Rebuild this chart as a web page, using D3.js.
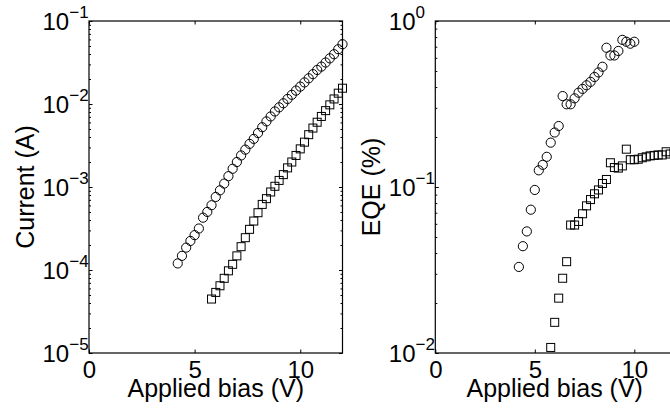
<!DOCTYPE html>
<html>
<head>
<meta charset="utf-8">
<script src="https://cdn.jsdelivr.net/npm/d3@7"></script>
<style>
body { margin: 0; background: #fff; }
text { font-family: "Liberation Sans", Arial, Helvetica, sans-serif; fill: #000; }
</style>
</head>
<body>
<svg id="chart" width="670" height="412"></svg>
<script>
//// DATA ///////////////////////////////////////////////////////////////////////

// Left panel: current vs applied bias
var bias_circle = [4.2, 4.4, 4.6, 4.8, 5.0, 5.2, 5.4, 5.6, 5.8, 6.0,
	6.2, 6.4, 6.6, 6.8, 7.0, 7.2, 7.4, 7.6, 7.8, 8.0,
	8.2, 8.4, 8.6, 8.8, 9.0, 9.2, 9.4, 9.6, 9.8, 10.0,
	10.2, 10.4, 10.6, 10.8, 11.0, 11.2, 11.4, 11.6, 11.8, 12.0];
var current_circle = [1.20e-4, 1.48e-4, 1.86e-4, 2.24e-4, 2.63e-4, 3.16e-4, 4.27e-4, 5.01e-4, 6.03e-4, 7.59e-4,
	9.12e-4, 1.10e-3, 1.35e-3, 1.66e-3, 2.00e-3, 2.40e-3, 2.82e-3, 3.31e-3, 3.80e-3, 4.47e-3,
	5.25e-3, 6.17e-3, 7.08e-3, 8.13e-3, 9.12e-3, 1.02e-2, 1.15e-2, 1.29e-2, 1.45e-2, 1.62e-2,
	1.82e-2, 2.04e-2, 2.29e-2, 2.57e-2, 2.82e-2, 3.16e-2, 3.55e-2, 3.98e-2, 4.57e-2, 5.25e-2];

var bias_square = [5.8, 6.0, 6.2, 6.4, 6.6, 6.8, 7.0, 7.2, 7.4, 7.6,
	7.8, 8.0, 8.2, 8.4, 8.6, 8.8, 9.0, 9.2, 9.4, 9.6,
	9.8, 10.0, 10.2, 10.4, 10.6, 10.8, 11.0, 11.2, 11.4, 11.6, 11.8, 12.0];
var current_square = [4.47e-5, 5.37e-5, 6.46e-5, 7.94e-5, 9.77e-5, 1.17e-4, 1.48e-4, 1.91e-4, 2.45e-4, 3.09e-4,
	3.89e-4, 4.90e-4, 6.17e-4, 7.24e-4, 8.71e-4, 1.02e-3, 1.20e-3, 1.41e-3, 1.70e-3, 2.00e-3,
	2.40e-3, 2.88e-3, 3.47e-3, 4.27e-3, 5.13e-3, 6.03e-3, 7.08e-3, 8.32e-3, 9.77e-3, 1.15e-2, 1.35e-2, 1.55e-2];

// Right panel: EQE vs applied bias
var eqe_bias_circle = [4.2, 4.4, 4.6, 4.8, 5.0, 5.2, 5.4, 5.6, 5.8, 6.0,
	6.2, 6.4, 6.6, 6.8, 7.0, 7.2, 7.4, 7.6, 7.8, 8.0,
	8.2, 8.4, 8.6, 8.8, 9.0, 9.2, 9.4, 9.6, 9.8, 10.0];
var eqe_circle = [0.033, 0.044, 0.054, 0.073, 0.096, 0.126, 0.136, 0.152, 0.185, 0.213,
	0.233, 0.353, 0.315, 0.315, 0.342, 0.37, 0.39, 0.41, 0.43, 0.46,
	0.49, 0.53, 0.69, 0.62, 0.62, 0.66, 0.77, 0.75, 0.73, 0.75];

var eqe_bias_square = [5.8, 6.0, 6.2, 6.4, 6.6, 6.8, 7.0, 7.2, 7.4, 7.6,
	7.8, 8.0, 8.2, 8.4, 8.6, 8.8, 9.0, 9.2, 9.4, 9.6,
	9.8, 10.0, 10.2, 10.4, 10.6, 10.8, 11.0, 11.2, 11.4, 11.6, 11.8, 12.0];
var eqe_square = [0.0108, 0.0153, 0.0214, 0.0282, 0.0355, 0.059, 0.059, 0.062, 0.069, 0.077,
	0.084, 0.091, 0.096, 0.105, 0.111, 0.140, 0.131, 0.130, 0.134, 0.169,
	0.146, 0.146, 0.147, 0.150, 0.152, 0.154, 0.155, 0.156, 0.156, 0.163, 0.158, 0.160];

// Axes
var x_ticks = [0, 5, 10];
var current_ticks = [1e-5, 1e-4, 1e-3, 1e-2, 1e-1];
var current_exps = ["\u22125", "\u22124", "\u22123", "\u22122", "\u22121"];
var eqe_ticks = [1e-2, 1e-1, 1];
var eqe_exps = ["\u22122", "\u22121", "0"];


//// SETTINGS ///////////////////////////////////////////////////////////////////

var top_y = 21, bot_y = 353;
var tick_len = 3.5, minor_len = 2;
var tick_font = 24, sup_font = 17, label_font = 25;

var svg = d3.select("#chart");


//// DRAWING ////////////////////////////////////////////////////////////////////

function drawPanel(p) {
	var x = d3.scaleLinear().domain([0, 12]).range([p.left, p.right]);
	var y = d3.scaleLog().domain(p.ydomain).range([bot_y, top_y]);
	var g = svg.append("g");

	// minor log ticks, both sides
	var minors = [];
	p.yticks.slice(0, -1).forEach(function(d) {
		for (var k = 2; k <= 9; k++) minors.push(d * k);
	});
	g.append("g").attr("transform", "translate(" + p.left + ",0)")
		.call(d3.axisRight(y).tickValues(minors).tickSize(minor_len).tickFormat(""));
	g.append("g").attr("transform", "translate(" + p.right + ",0)")
		.call(d3.axisLeft(y).tickValues(minors).tickSize(minor_len).tickFormat(""));

	// major y ticks
	g.append("g").attr("transform", "translate(" + p.left + ",0)")
		.call(d3.axisRight(y).tickValues(p.yticks).tickSize(tick_len).tickFormat(""));
	g.append("g").attr("transform", "translate(" + p.right + ",0)")
		.call(d3.axisLeft(y).tickValues(p.yticks).tickSize(tick_len).tickFormat(""));

	// x ticks, bottom (with labels) and top
	var xb = g.append("g").attr("transform", "translate(0," + bot_y + ")")
		.call(d3.axisBottom(x).tickValues(x_ticks).tickSizeInner(-tick_len).tickSizeOuter(0).tickPadding(8));
	xb.selectAll("text").style("font-size", tick_font + "px")
		.style("font-family", "'Liberation Sans', Arial, sans-serif").attr("fill", "#000");
	g.append("g").attr("transform", "translate(0," + top_y + ")")
		.call(d3.axisTop(x).tickValues(x_ticks).tickSizeInner(-tick_len).tickSizeOuter(0).tickFormat(""));

	g.selectAll(".domain").remove();
	g.selectAll(".tick line").attr("stroke", "#000").attr("stroke-width", 1);

	// box
	g.append("rect")
		.attr("x", p.left).attr("y", top_y)
		.attr("width", p.right - p.left).attr("height", bot_y - top_y)
		.attr("fill", "none").attr("stroke", "#000").attr("stroke-width", 1.2);

	// y tick labels as 10^n
	var lab = g.selectAll("text.ylab").data(p.yticks).enter().append("text")
		.attr("class", "ylab")
		.attr("x", p.left - 46.5)
		.attr("y", function(d) { return y(d) + 8.5; })
		.style("font-size", tick_font + "px");
	lab.append("tspan").text("10");
	lab.append("tspan")
		.attr("dy", -12)
		.style("font-size", sup_font + "px")
		.text(function(d, i) { return p.exps[i]; });

	// axis titles
	g.append("text")
		.attr("x", (p.left + p.right) / 2).attr("y", 397)
		.attr("text-anchor", "middle")
		.style("font-size", label_font + "px")
		.text("Applied bias (V)");
	g.append("text")
		.attr("transform", "translate(" + p.ylab_x + "," + (top_y + bot_y) / 2 + ") rotate(-90)")
		.attr("text-anchor", "middle")
		.style("font-size", label_font + "px")
		.text(p.ylabel);

	// markers
	var circ = p.cx.map(function(d, i) { return [d, p.cy[i]]; });
	g.selectAll("circle.pt").data(circ).enter().append("circle")
		.attr("class", "pt")
		.attr("cx", function(d) { return x(d[0]); })
		.attr("cy", function(d) { return y(d[1]); })
		.attr("r", 4.6)
		.attr("fill", "none").attr("stroke", "#000").attr("stroke-width", 1);

	var sq = p.sx.map(function(d, i) { return [d, p.sy[i]]; });
	var s = 8;
	g.selectAll("rect.pt").data(sq).enter().append("rect")
		.attr("class", "pt")
		.attr("x", function(d) { return x(d[0]) - s / 2; })
		.attr("y", function(d) { return y(d[1]) - s / 2; })
		.attr("width", s).attr("height", s)
		.attr("fill", "none").attr("stroke", "#000").attr("stroke-width", 1);
}

drawPanel({
	left: 89, right: 342.5,
	ydomain: [1e-5, 1e-1], yticks: current_ticks, exps: current_exps,
	ylabel: "Current (A)", ylab_x: 34,
	cx: bias_circle, cy: current_circle,
	sx: bias_square, sy: current_square
});

drawPanel({
	left: 435.3, right: 674.1,
	ydomain: [1e-2, 1], yticks: eqe_ticks, exps: eqe_exps,
	ylabel: "EQE (%)", ylab_x: 380,
	cx: eqe_bias_circle, cy: eqe_circle,
	sx: eqe_bias_square, sy: eqe_square
});
</script>
</body>
</html>
